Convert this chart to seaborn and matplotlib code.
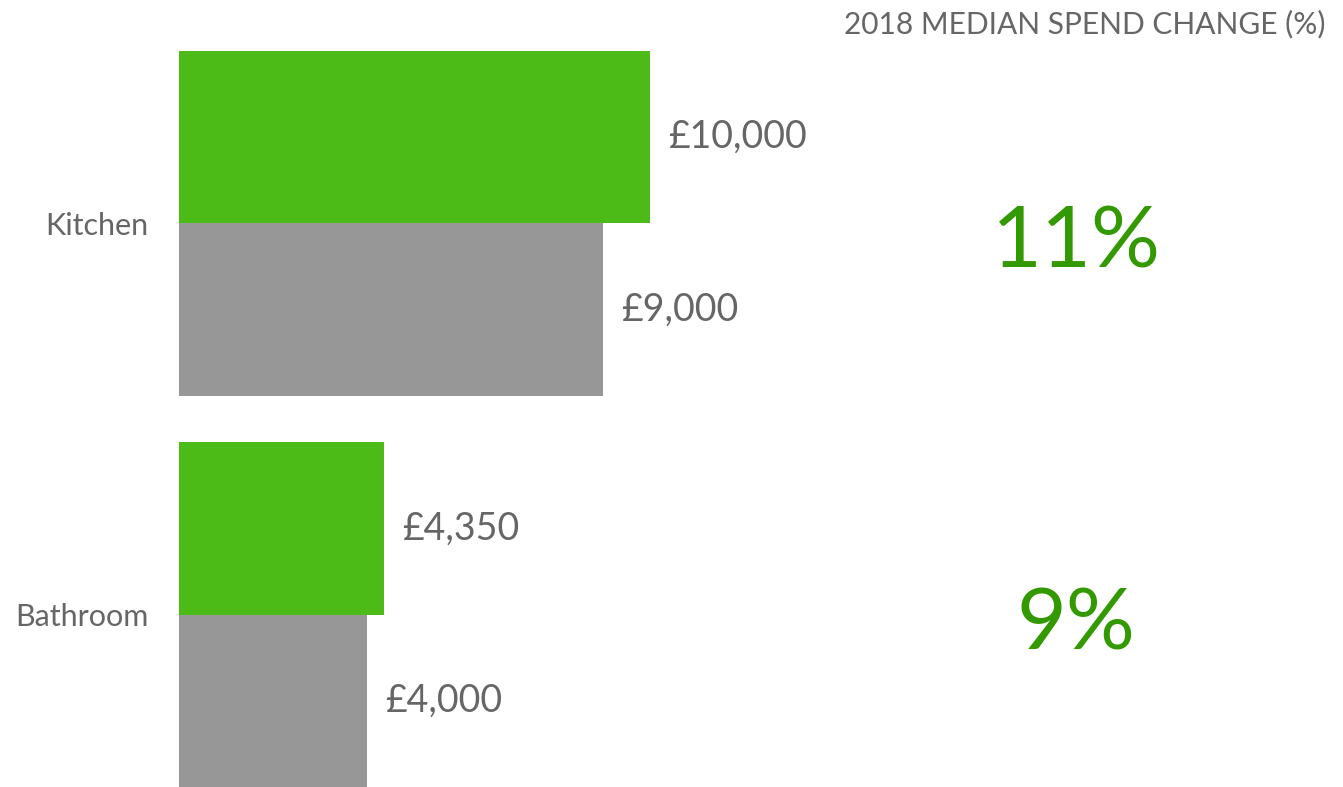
import matplotlib
matplotlib.use('Agg')
import matplotlib.pyplot as plt
import seaborn as sns
import pandas as pd

rooms = ['Kitchen', 'Bathroom']
years = ['2018', '2017']
spend_2018 = [10000, 4350]
spend_2017 = [9000, 4000]
change_pct = ['11%', '9%']

df = pd.DataFrame({
    'room': rooms * 2,
    'year': [years[0]] * 2 + [years[1]] * 2,
    'spend': spend_2018 + spend_2017,
})

sns.set_style('white')
plt.rcParams['font.family'] = ['Lato', 'DejaVu Sans']

fig = plt.figure(figsize=(13.43, 7.87), dpi=100)
ax = fig.add_axes([179 / 1343, 0, 1 - 179 / 1343, 1 - 51 / 787])

sns.barplot(data=df, y='room', x='spend', hue='year', hue_order=years,
            palette=['#4dbb17', '#979797'], orient='h', width=0.88,
            saturation=1, legend=False, linewidth=0, ax=ax)

for c in ax.containers:
    ax.bar_label(c, labels=[f'£{v:,.0f}' for v in c.datavalues], padding=13,
                 fontsize=27, color='#666666')

ax.set_xlim(0, (1343 - 179) / 0.0471)
ax.set_ylim(1.44, -0.44)
ax.set_xlabel('')
ax.set_ylabel('')
ax.set_xticks([])
ax.tick_params(axis='y', length=0, pad=22, labelsize=22, labelcolor='#666666')
for s in ax.spines.values():
    s.set_visible(False)

fig.text(1325 / 1343, 1 - 24 / 787, '2018 MEDIAN SPEND CHANGE (%)', ha='right', va='center',
         fontsize=21.5, color='#666666')
for pct, y in zip(change_pct, [244, 625]):
    fig.text(1076 / 1343, 1 - y / 787, pct, ha='center', va='center',
             fontsize=62, color='#339900')

fig.savefig('out.png', dpi=100)
